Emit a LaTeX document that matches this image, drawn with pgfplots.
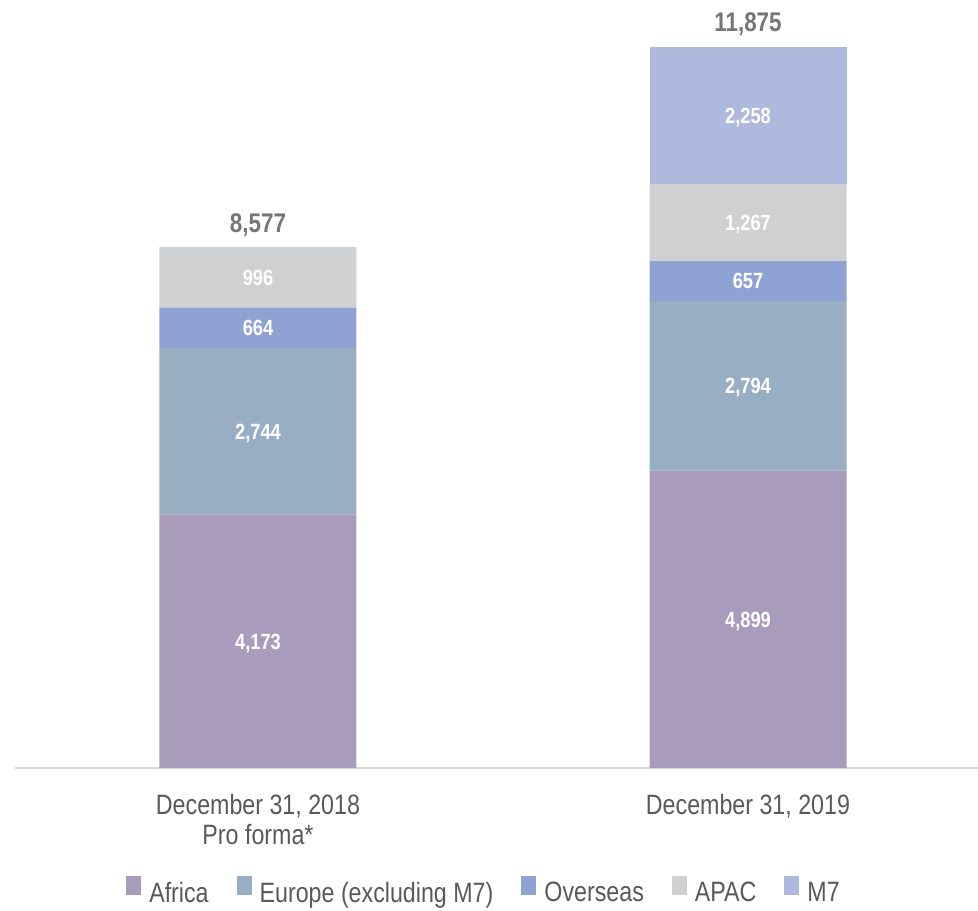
\documentclass[border=0pt]{standalone}
\usepackage{pgfplots}
\pgfplotsset{compat=1.18}
\usepackage{fontspec}
\setmainfont[FakeStretch=0.83]{Liberation Sans}
\usetikzlibrary{calc}
\definecolor{africa}{HTML}{A89BBC}
\definecolor{europe}{HTML}{98AEC3}
\definecolor{overseas}{HTML}{8EA3D4}
\definecolor{apac}{HTML}{CFD0D2}
\definecolor{mseven}{HTML}{ADB9DD}
\definecolor{totalgray}{HTML}{767676}
\definecolor{textgray}{HTML}{595959}
\definecolor{axisgray}{HTML}{D9D9D9}
\begin{document}
\begin{tikzpicture}
\begin{axis}[
  name=ax,
  scale only axis, width=963bp, height=721bp,
  xmin=-0.4959, xmax=1.4694, ymin=0, ymax=11875,
  ybar stacked, bar width=197bp,
  axis y line=none, axis x line*=bottom,
  x axis line style={axisgray, line width=2bp},
  xtick={0,1},
  xticklabels={{December 31, 2018\\Pro forma*},{December 31, 2019}},
  xticklabel style={align=center, font=\fontsize{28bp}{30bp}\selectfont, text=textgray, inner sep=0pt, yshift=-26bp},
  major tick length=0pt,
  legend columns=-1,
  legend style={draw=none, fill=none, at={(0.487,-0.170)}, anchor=center,
    font=\fontsize{28bp}{30bp}\selectfont, text=textgray,
    /tikz/every odd column/.append style={column sep=6bp},
    /tikz/every even column/.append style={column sep=26bp}},
  legend image code/.code={\fill[#1] (0bp,-2bp) rectangle (15bp,17bp);},
]
\addplot[fill=africa, draw=none] coordinates {(0,4173) (1,4899)};
\addlegendentry{Africa}
\addplot[fill=europe, draw=none] coordinates {(0,2744) (1,2794)};
\addlegendentry{Europe (excluding M7)}
\addplot[fill=overseas, draw=none] coordinates {(0,664) (1,657)};
\addlegendentry{Overseas}
\addplot[fill=apac, draw=none] coordinates {(0,996) (1,1267)};
\addlegendentry{APAC}
\addplot[fill=mseven, draw=none] coordinates {(0,0) (1,2258)};
\addlegendentry{M7}
\end{axis}
\begin{axis}[
  scale only axis, width=963bp, height=721bp,
  xmin=-0.4959, xmax=1.4694, ymin=0, ymax=11875,
  hide axis,
  /pgf/number format/1000 sep={,},
  /pgf/number format/assume math mode=true,
]
\addplot[draw=none, mark=none, nodes near coords, point meta=explicit,
  every node near coord/.append style={anchor=base, yshift=-8bp, text=white,
    font=\fontsize{22bp}{24bp}\selectfont\bfseries}]
  coordinates {
  (0,2086.5) [4173] (0,5545) [2744] (0,7249) [664] (0,8079) [996]
  (1,2449.5) [4899] (1,6296) [2794] (1,8021.5) [657] (1,8983.5) [1267] (1,10746) [2258]
  };
\addplot[draw=none, mark=none, nodes near coords, point meta=explicit,
  every node near coord/.append style={anchor=base, yshift=15bp, text=totalgray,
    font=\fontsize{27bp}{29bp}\selectfont\bfseries}]
  coordinates {(0,8577) [8577] (1,11875) [11875]};
\end{axis}
\pgfresetboundingbox
\path[use as bounding box] ($(ax.south west)+(-15bp,-143bp)$) rectangle ($(ax.south west)+(963bp,768bp)$);
\end{tikzpicture}
\end{document}
